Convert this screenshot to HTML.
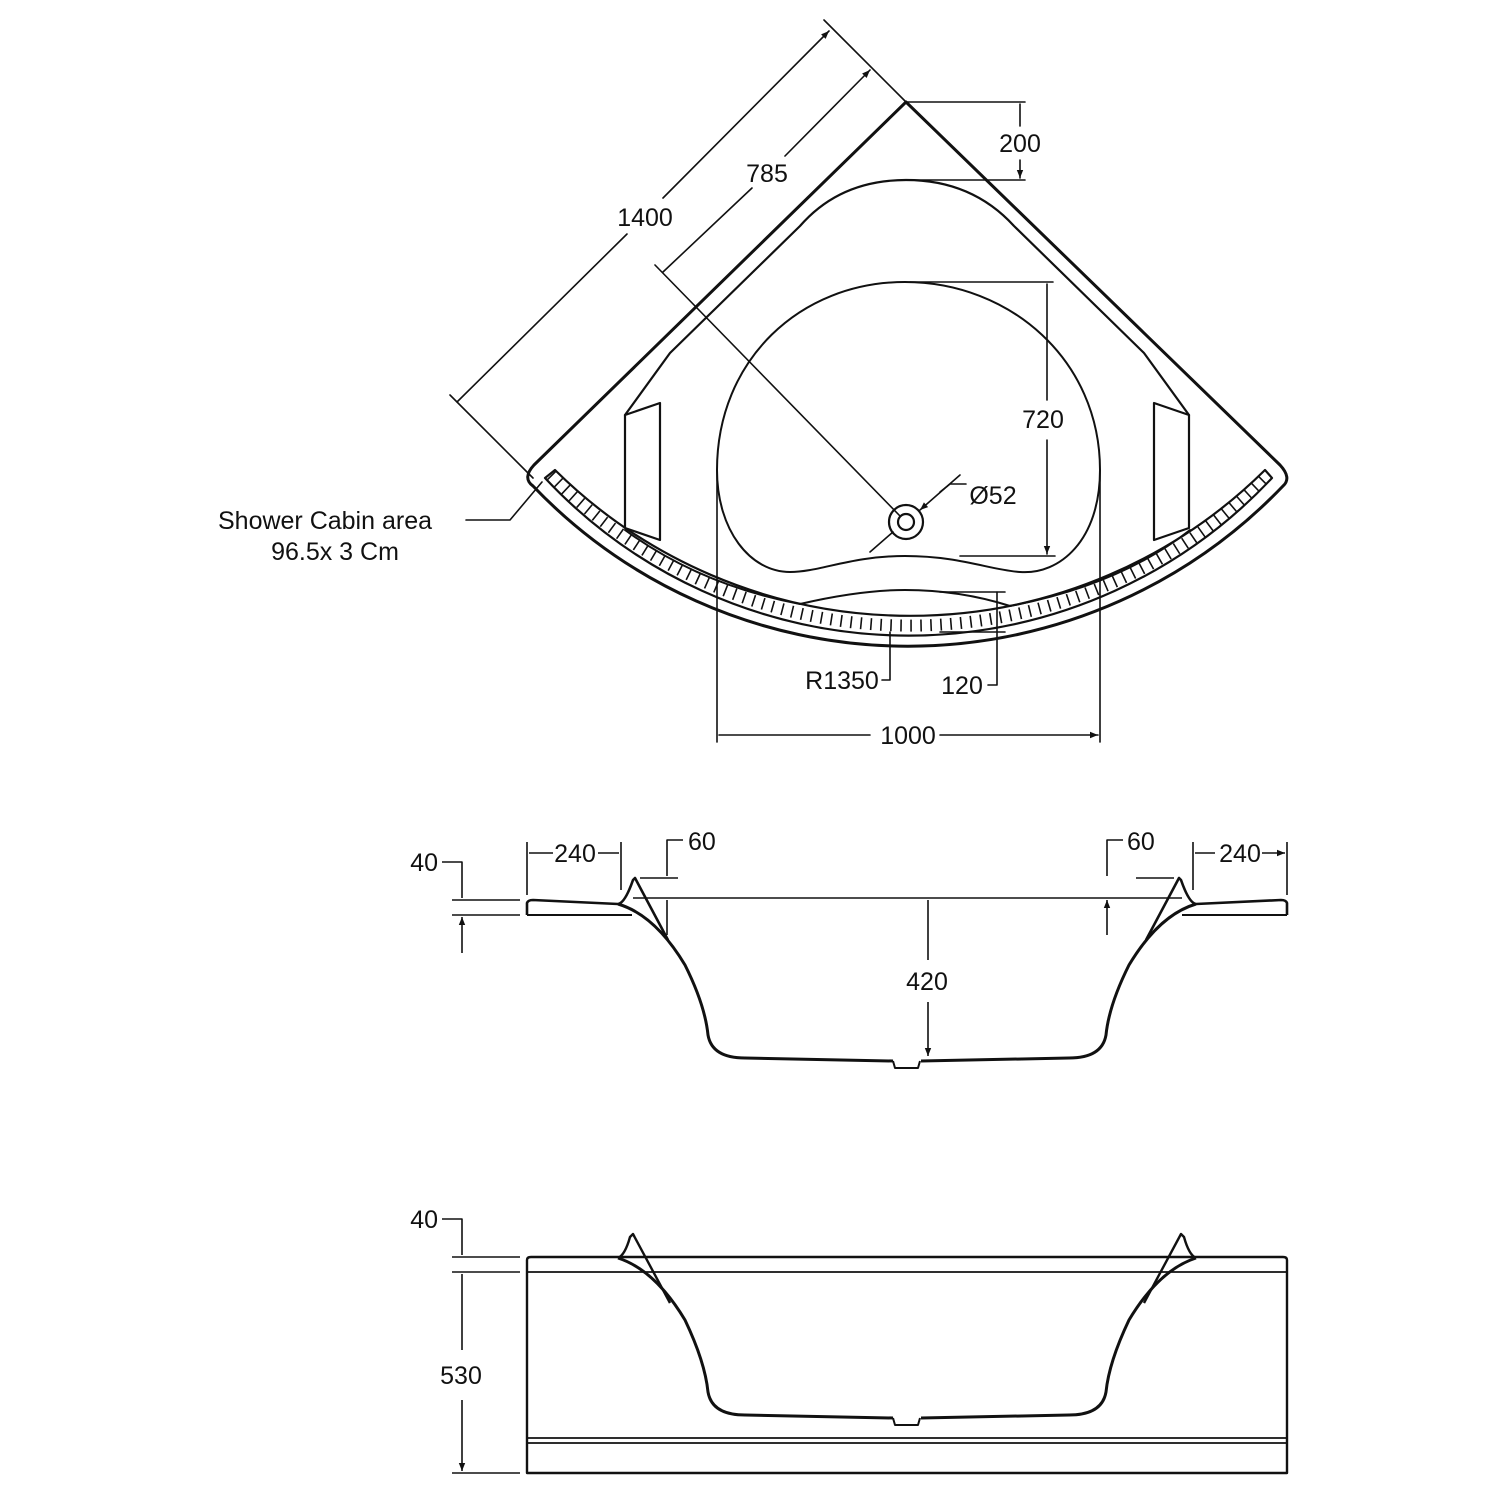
<!DOCTYPE html>
<html><head><meta charset="utf-8"><style>
html,body{margin:0;padding:0;background:#fff}
svg{display:block}
text{font-family:"Liberation Sans",sans-serif;font-size:25px;fill:#111}
</style></head><body>
<svg width="1500" height="1500" viewBox="0 0 1500 1500" xmlns="http://www.w3.org/2000/svg">
<defs>
<marker id="a" viewBox="0 0 10 10" refX="10" refY="5" markerWidth="16" markerHeight="8" markerUnits="userSpaceOnUse" orient="auto-start-reverse"><path d="M0,1 L10,5 L0,9 Z" fill="#111"/></marker>
</defs>
<g fill="none" stroke="#111" stroke-width="2.2" stroke-linejoin="round" stroke-linecap="round">
<!-- TOP VIEW -->
<path d="M906,102 L1280,465 Q1292,478 1283,486 A519,519 0 0 1 533,486 Q522,478 534,465 Z" stroke-width="3"/>
<path d="M545,478 A498,498 0 0 0 1272,478 L1265,470 A505,505 0 0 1 555,470 Z"/>
<path d="M551,475 A502,502 0 0 0 1268,475" stroke-width="12" stroke-dasharray="1.6 8.4" stroke-linecap="butt"/>
<!-- inner rim -->
<path d="M625,415 L670,353 L800,226 Q840,180 906,180 Q972,180 1014,226 L1144,353 L1189,415"/>
<!-- seats -->
<path d="M625,415 L660,403 L660,540 L625,528 Z"/>
<path d="M1189,415 L1154,403 L1154,540 L1189,528 Z"/>
<!-- bowl -->
<path d="M905,282 C1010,282 1100,360 1100,470 C1100,540 1060,575 1020,572 C990,570 960,556 905,556 C850,556 820,572 790,572 C750,572 717,530 717,470 C717,360 800,282 905,282Z" stroke-width="2"/>
<path d="M625,530 Q700,585 800,604 Q860,590 905,590 Q960,590 1010,606 Q1120,585 1190,530" stroke-width="2"/>
<!-- drain -->
<circle cx="906" cy="522" r="17"/><circle cx="906" cy="522" r="8"/>
<!-- dims top -->
<g stroke-width="1.6">
<path d="M717,470 L717,742 M1100,470 L1100,742"/>
<path d="M870,735 L719,735 M940,735 L1098,735" marker-end="url(#a)"/>
<path d="M906,102 L1025,102 M905,180 L1025,180"/>
<path d="M1020,126 L1020,104 M1020,160 L1020,178" marker-end="url(#a)"/>
<path d="M910,282 L1053,282 M960,556 L1055,556"/>
<path d="M1047,400 L1047,284 M1047,440 L1047,554" marker-end="url(#a)"/>
<path d="M940,592 L1005,592 M940,632 L1005,632"/>
<path d="M997,592 L997,685 L988,685"/>
<path d="M890,632 L890,680 L882,680"/>
<path d="M533,478 L450,395 M906,102 L824,20"/>
<path d="M627,234 L457,402 M663,198 L829,31" marker-end="url(#a)"/>
<path d="M752,188 L663,272 M785,156 L870,70" marker-end="url(#a)"/>
<path d="M655,265 L900,516"/>
<path d="M870,552 L893,532 M960,475 L920,510" marker-end="url(#a)"/>
<path d="M940,492 L950,484 L966,484"/>
<path d="M466,520 L510,520 L542,482"/>
</g>
</g>
<rect x="1000" y="127" width="46" height="30" fill="#fff"/>
<text x="1020" y="152" text-anchor="middle">200</text>
<rect x="1018" y="402" width="52" height="34" fill="#fff"/>
<text x="1043" y="428" text-anchor="middle">720</text>
<text x="993" y="504" text-anchor="middle">Ø52</text>
<text x="842" y="689" text-anchor="middle">R1350</text>
<text x="962" y="694" text-anchor="middle">120</text>
<text x="908" y="744" text-anchor="middle">1000</text>
<text x="645" y="226" text-anchor="middle">1400</text>
<text x="767" y="182" text-anchor="middle">785</text>
<text x="325" y="529" text-anchor="middle">Shower Cabin area</text>
<text x="335" y="560" text-anchor="middle">96.5x 3 Cm</text>

<!-- SIDE VIEW 1 -->
<g fill="none" stroke="#111" stroke-width="2.6" stroke-linejoin="round">
<g id="h1">
<path d="M527,915 L527,903 Q528,900 533,900 L618,904 Q625,903 633,880 L635,878 L668,940"/>
<path d="M527,915 L632,915" stroke-width="2"/>
<path d="M618,904 Q655,915 685,965 Q705,1005 708,1035 Q712,1058 745,1058 L893,1061" stroke-width="3"/>
</g>
<use href="#h1" transform="translate(1814,0) scale(-1,1)"/>
<path d="M893,1061 L895,1068 L918,1068 L920,1061" stroke-width="2"/>
<g stroke-width="1.6">
<path d="M633,898 L1182,898 M452,900 L520,900 M452,915 L520,915"/>
<path d="M442,862 L462,862 L462,898 M462,953 L462,917" marker-end="url(#a)"/>
<path d="M527,842 L527,895 M621,842 L621,890 M1193,842 L1193,890 M1287,842 L1287,895"/>
<path d="M553,853 L529,853 M598,853 L619,853 M1215,853 L1195,853 M1262,853 L1285,853" marker-end="url(#a)"/>
<path d="M640,878 L678,878 M1136,878 L1174,878"/>
<path d="M683,840 L667,840 L667,876 M667,935 L667,900 M1123,840 L1107,840 L1107,876 M1107,935 L1107,900" marker-end="url(#a)"/>
<path d="M928,960 L928,900 M928,1002 L928,1056" marker-end="url(#a)"/>
</g>
</g>
<text x="438" y="871" text-anchor="end">40</text>
<text x="575" y="862" text-anchor="middle">240</text>
<text x="1240" y="862" text-anchor="middle">240</text>
<text x="688" y="850">60</text>
<text x="1127" y="850">60</text>
<text x="927" y="990" text-anchor="middle">420</text>

<!-- SIDE VIEW 2 -->
<g fill="none" stroke="#111" stroke-width="2.4" stroke-linejoin="round">
<path d="M527,1260 Q527,1257 531,1257 L1283,1257 Q1287,1257 1287,1260 L1287,1473 L527,1473 Z"/>
<path d="M527,1272 L1287,1272 M527,1438 L1287,1438 M527,1443 L1287,1443" stroke-width="1.8"/>
<g id="h2">
<path d="M618,1258 Q625,1255 630,1237 L633,1234 L670,1303"/>
<path d="M618,1258 Q655,1270 685,1320 Q705,1362 708,1392 Q712,1415 745,1415 L893,1418" stroke-width="3"/>
</g>
<use href="#h2" transform="translate(1814,0) scale(-1,1)"/>
<path d="M893,1418 L895,1425 L918,1425 L920,1418" stroke-width="2"/>
<g stroke-width="1.6">
<path d="M452,1257 L520,1257 M452,1272 L520,1272 M452,1473 L520,1473"/>
<path d="M442,1219 L462,1219 L462,1255 M462,1350 L462,1274 M462,1400 L462,1471" marker-end="url(#a)"/>
</g>
</g>
<text x="438" y="1228" text-anchor="end">40</text>
<text x="461" y="1384" text-anchor="middle" style="paint-order:stroke;stroke:#fff;stroke-width:8px">530</text>
</svg>
</body></html>
